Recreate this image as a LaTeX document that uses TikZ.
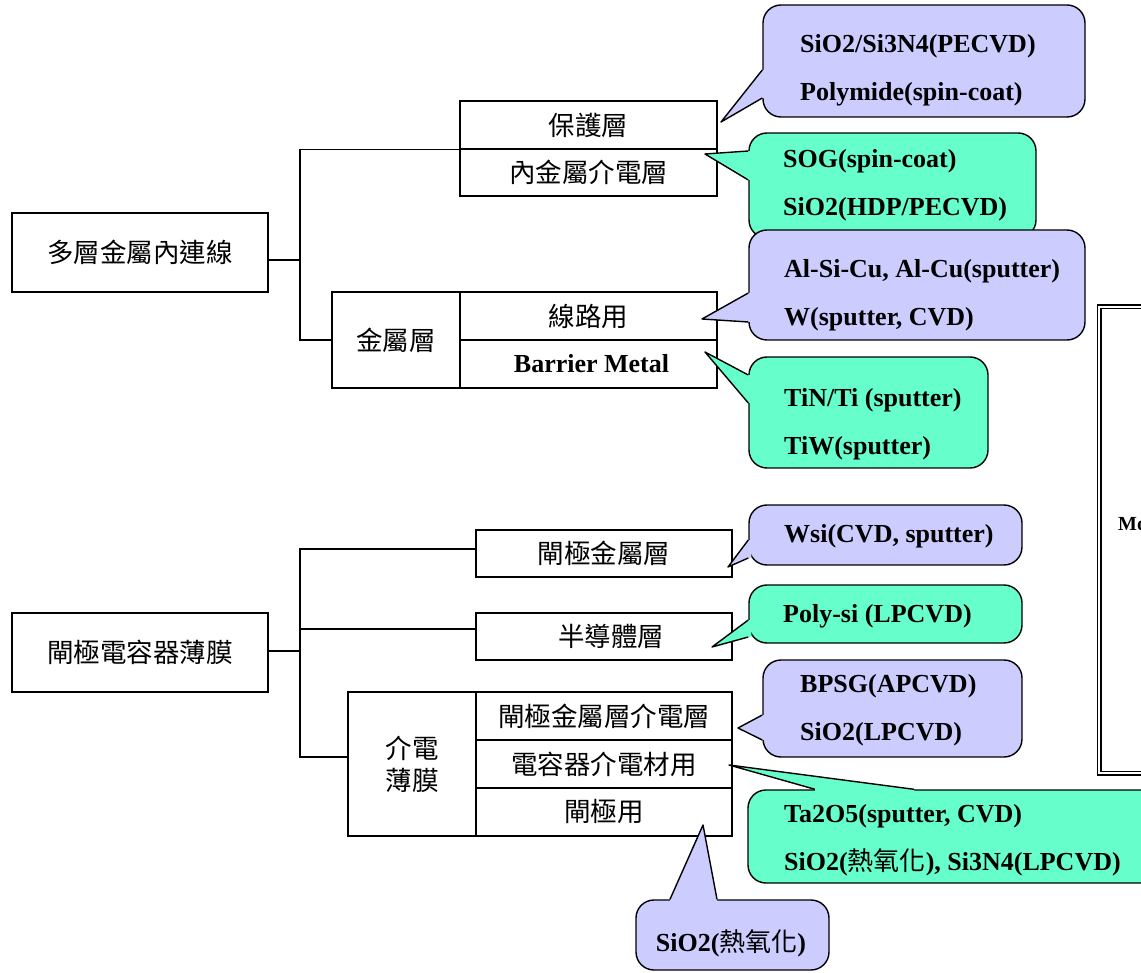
\documentclass[tikz,border=0pt]{standalone}
\usepackage{fontspec}
\setmainfont{Liberation Serif}
\newfontfamily\cjk{Noto Sans CJK TC}
\usetikzlibrary{calc}
\definecolor{lav}{HTML}{CCCCFF}
\definecolor{mint}{HTML}{66FFCC}
\begin{document}
\begin{tikzpicture}[x=1pt,y=-1pt,
  treebox/.style={draw, line width=1.3pt, inner sep=0pt, font=\cjk\fontsize{26.5}{32}\selectfont, align=center},
  bubble/.style={draw, line width=1.4pt, rounded corners=18pt, inner sep=0pt},
  btext/.style={font=\bfseries\fontsize{26}{48}\selectfont, align=left, anchor=west, inner sep=0pt},
  link/.style={line width=1.3pt},
  ptr/.style={line width=1.4pt, line join=round},
]
\useasboundingbox (0,0) rectangle (1141,973);
\clip (0,0) rectangle (1141,973);

% ---------- top tree ----------
\node[treebox, minimum width=256pt, minimum height=79pt] (root1) at (140,252.5) {多層金屬內連線};
\node[treebox, minimum width=257pt, minimum height=48pt] (bh) at (588.5,125) {保護層};
\node[treebox, minimum width=257pt, minimum height=47pt] (nj) at (588.5,172.5) {內金屬介電層};
\node[treebox, minimum width=128pt, minimum height=96pt] (jsc) at (396,340) {金屬層};
\node[treebox, minimum width=257pt, minimum height=48pt] (xl) at (588.5,316) {線路用};
\node[treebox, minimum width=257pt, minimum height=48pt, font=\bfseries\fontsize{26}{30}\selectfont] (bm) at (588.5,364) {\hspace*{6pt}Barrier Metal};

\coordinate (j1) at (300,260);
\coordinate (r1e) at ([yshift=-7.5pt]root1.east);
\draw[link] (r1e) -- (r1e -| j1);
\draw[link] (bh.south west) -- (bh.south west -| j1) -- (jsc.west -| j1) -- (jsc.west);

% ---------- bottom tree ----------
\node[treebox, minimum width=256pt, minimum height=79pt] (root2) at (140,652.5) {閘極電容器薄膜};
\node[treebox, minimum width=256pt, minimum height=47pt] (gm) at (604,553.5) {閘極金屬層};
\node[treebox, minimum width=256pt, minimum height=47pt] (sc) at (604,636.5) {\hspace*{14pt}半導體層};
\node[treebox, minimum width=128pt, minimum height=144pt] (df) at (412,764) {介電\\薄膜};
\node[treebox, minimum width=256pt, minimum height=48pt] (d1) at (604,716) {閘極金屬層介電層};
\node[treebox, minimum width=256pt, minimum height=48pt] (d2) at (604,764) {電容器介電材用};
\node[treebox, minimum width=256pt, minimum height=48pt] (d3) at (604,812) {閘極用};

\coordinate (j2) at (300,651);
\coordinate (gmw) at ([yshift=4.5pt]gm.west);
\coordinate (scw) at ([yshift=7.5pt]sc.west);
\coordinate (dfw) at ([yshift=7pt]df.west);
\coordinate (r2e) at ([yshift=1.5pt]root2.east);
\draw[link] (r2e) -- (r2e -| j2);
\draw[link] (gmw) -- (gmw -| j2) -- (dfw -| j2) -- (dfw);
\draw[link] (scw) -- (scw -| j2);

% ---------- callout 1 ----------
\node[bubble, fill=lav, minimum width=322pt, minimum height=112pt] (c1) at (924,61) {};
\coordinate (t1) at (721,122);
\coordinate (c1a) at (c1.west |- 0,70);
\coordinate (c1b) at (c1.west |- 0,98);
\fill[lav] (t1) -- (c1a) -- ([xshift=3pt]c1a) -- ([xshift=3pt]c1b) -- (c1b) -- cycle;
\draw[ptr] (c1a) -- (t1) -- (c1b);
\node[btext] (c1t) at (800,70) {SiO2/Si3N4(PECVD)\\Polymide(spin-coat)};

% ---------- callout 2 ----------
\node[bubble, fill=mint, minimum width=287pt, minimum height=105pt] (c2) at (892.5,185.5) {};
\coordinate (t2) at (705,154);
\coordinate (c2a) at (c2.west |- 0,151);
\coordinate (c2b) at (c2.west |- 0,180);
\fill[mint] (t2) -- (c2a) -- ([xshift=3pt]c2a) -- ([xshift=3pt]c2b) -- (c2b) -- cycle;
\draw[ptr] (c2a) -- (t2) -- (c2b);
\node[btext] (c2t) at (783,185) {SOG(spin-coat)\\SiO2(HDP/PECVD)};

% ---------- callout 3 ----------
\node[bubble, fill=lav, minimum width=336pt, minimum height=110pt] (c3) at (917,285) {};
\coordinate (t3) at (702,319);
\coordinate (c3a) at (c3.west |- 0,293);
\coordinate (c3b) at (c3.west |- 0,322);
\fill[lav] (t3) -- (c3a) -- ([xshift=3pt]c3a) -- ([xshift=3pt]c3b) -- (c3b) -- cycle;
\draw[ptr] (c3a) -- (t3) -- (c3b);
\node[btext] (c3t) at (784,295) {Al-Si-Cu, Al-Cu(sputter)\\W(sputter, CVD)};

% ---------- callout 4 ----------
\node[bubble, fill=mint, minimum width=239pt, minimum height=111pt] (c4) at (868.5,412.5) {};
\coordinate (t4) at (705,352);
\coordinate (c4a) at (c4.west |- 0,375);
\coordinate (c4b) at (c4.west |- 0,403);
\fill[mint] (t4) -- (c4a) -- ([xshift=3pt]c4a) -- ([xshift=3pt]c4b) -- (c4b) -- cycle;
\draw[ptr] (c4a) -- (t4) -- (c4b);
\node[btext] (c4t) at (784,424) {TiN/Ti (sputter)\\TiW(sputter)};

% ---------- callout 5 ----------
\node[bubble, fill=lav, minimum width=273pt, minimum height=60pt] (c5) at (885.5,535) {};
\coordinate (t5) at (728,567);
\coordinate (c5a) at (c5.west |- 0,540);
\coordinate (c5b) at (c5.west |- 0,558);
\fill[lav] (t5) -- (c5a) -- ([xshift=3pt]c5a) -- ([xshift=3pt]c5b) -- (c5b) -- cycle;
\draw[ptr] (c5a) -- (t5) -- (c5b);
\node[btext] (c5t) at (784,536) {Wsi(CVD, sputter)};

% ---------- callout 6 ----------
\node[bubble, fill=mint, minimum width=273pt, minimum height=58pt] (c6) at (885.5,614) {};
\coordinate (t6) at (712,647);
\coordinate (c6a) at (c6.west |- 0,620);
\coordinate (c6b) at (c6.west |- 0,637);
\fill[mint] (t6) -- (c6a) -- ([xshift=3pt]c6a) -- ([xshift=3pt]c6b) -- (c6b) -- cycle;
\draw[ptr] (c6a) -- (t6) -- (c6b);
\node[btext] (c6t) at (783,616) {Poly-si (LPCVD)};

% ---------- callout 7 ----------
\node[bubble, fill=lav, minimum width=259pt, minimum height=97pt] (c7) at (892.5,708.5) {};
\coordinate (t7) at (738,728);
\coordinate (c7a) at (c7.west |- 0,715);
\coordinate (c7b) at (c7.west |- 0,740);
\fill[lav] (t7) -- (c7a) -- ([xshift=3pt]c7a) -- ([xshift=3pt]c7b) -- (c7b) -- cycle;
\draw[ptr] (c7a) -- (t7) -- (c7b);
\node[btext] (c7t) at (800,710) {BPSG(APCVD)\\SiO2(LPCVD)};

% ---------- callout 8 ----------
\node[bubble, fill=mint, minimum width=417pt, minimum height=93pt] (c8) at (956.5,836.5) {};
\coordinate (t8) at (729,765);
\coordinate (c8a) at (815,0 |- c8.north);
\coordinate (c8b) at (914,0 |- c8.north);
\fill[mint] (t8) -- (c8a) -- ([yshift=-3pt]c8a) -- ([yshift=-3pt]c8b) -- (c8b) -- cycle;
\draw[ptr] (c8a) -- (t8) -- (c8b);
\node[btext] (c8t) at (784,840) {Ta2O5(sputter, CVD)\\SiO2({\cjk\mdseries 熱氧化}), Si3N4(LPCVD)};

% ---------- callout 9 ----------
\node[bubble, fill=lav, minimum width=193pt, minimum height=70pt] (c9) at (732.5,935) {};
\coordinate (t9) at (703,825);
\coordinate (c9a) at (670,0 |- c9.north);
\coordinate (c9b) at (717,0 |- c9.north);
\fill[lav] (t9) -- (c9a) -- ([yshift=-3pt]c9a) -- ([yshift=-3pt]c9b) -- (c9b) -- cycle;
\draw[ptr] (c9a) -- (t9) -- (c9b);
\node[btext, anchor=center] (c9t) at (731,943) {SiO2({\cjk\mdseries 熱氧化})};

% ---------- right frame ----------
\node[draw, line width=1.3pt, double, double distance=2.4pt, minimum width=200pt, minimum height=466pt, inner sep=0pt] (frame) at (1199,540) {};
\node[font=\bfseries\fontsize{20}{22}\selectfont, anchor=west, inner sep=0pt] (fl) at (1118,524) {Mo};
\end{tikzpicture}
\end{document}
